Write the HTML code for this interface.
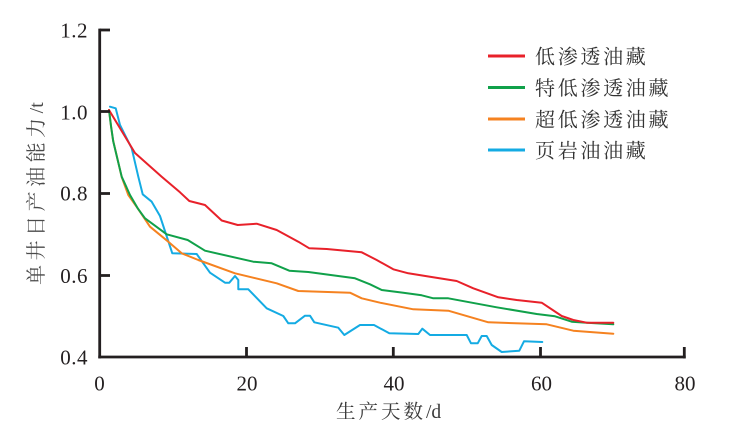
<!DOCTYPE html>
<html>
<head>
<meta charset="utf-8">
<style>
  html,body{margin:0;padding:0;background:#fff;}
  svg{display:block;}
  .tick{font-family:"Liberation Serif","Noto Serif CJK SC",serif;font-size:21px;fill:#231f20;}
  .cj{font-family:"Liberation Serif","Noto Serif CJK SC",serif;}
</style>
</head>
<body>
<svg width="737" height="431" viewBox="0 0 737 431" xmlns="http://www.w3.org/2000/svg">
  <rect width="737" height="431" fill="#fff"/>

  <!-- series -->
  <g fill="none" stroke-width="2" stroke-linejoin="round" stroke-linecap="round">
    <polyline stroke="#14abe3" points="110,106.7 115.7,108.3 120,125 131.7,148.3 138.3,176.7 142.7,194.3 151.7,201.7 160,216 172.3,253.3 196.7,254 210,272.7 225,282.7 229.3,282.7 235,276 238.3,280 238.3,289.3 248.3,289.3 266.7,308.3 283.3,316 288.3,323.3 295,323.3 305,315.7 310,315.7 314.3,322.3 338.3,327.7 344.3,335 360,325 374,325 389.3,333.3 418.3,334 422.3,328.7 430,335 466.7,335 471,343.3 477.7,343.3 481.7,336 486.7,336 491.7,345 501.7,352 519.3,350.7 524,341.3 542.3,342"/>
    <polyline stroke="#f58220" points="109,110 111,126 113,140 121.7,177 128.3,195 137.7,208.3 150,226.7 168.3,241.7 181.7,253.3 198.3,260 235,273.3 276.7,283.3 298.3,291 350,292.7 361.7,298.3 380,302.7 413.3,309.3 448.3,310.7 488.3,322.3 546.7,324.3 573.3,330.7 613.3,333.7"/>
    <polyline stroke="#10a14a" points="109,110 111,126 113.3,141.7 121.7,176.7 130,195 137.7,208.3 145,218.3 166.7,234.3 187.7,240 205,250.7 253.3,261.7 271.7,263.3 289.3,270.7 308.3,272 355,278.3 370,284.3 381.7,290 403.3,292.7 421.7,295.3 433.3,298.3 448.3,298.3 496.7,307.3 536.7,314 555,316.3 571.7,321.7 586.7,322.7 613.3,324.3"/>
    <polyline stroke="#e8212a" points="109,110 135,153 161.7,176.7 180,192.3 189.3,201 205,205 221.7,220.5 237.7,225 256.7,223.7 276.7,230 298.3,241.7 309.3,248.3 326.7,249 361.7,252.3 376.7,260 393.3,269.3 408.3,273.3 430,276.7 456.7,281 473.3,288.3 498.3,297.3 516.7,300 541.7,302.7 561.7,316 573.3,320 586.7,322.7 613.3,322.7"/>
  </g>

  <!-- axes -->
  <g stroke="#231f20" stroke-width="2.8" fill="none">
    <line x1="99.7" y1="28.6" x2="99.7" y2="358.4"/>
    <line x1="98.3" y1="357" x2="685.7" y2="357"/>
    <line x1="99.7" y1="30" x2="110" y2="30"/>
    <line x1="99.7" y1="111.5" x2="110" y2="111.5"/>
    <line x1="99.7" y1="193.5" x2="110" y2="193.5"/>
    <line x1="99.7" y1="275.5" x2="110" y2="275.5"/>
    <line x1="246.5" y1="357" x2="246.5" y2="347"/>
    <line x1="393.3" y1="357" x2="393.3" y2="347"/>
    <line x1="540.5" y1="357" x2="540.5" y2="347"/>
    <line x1="684.3" y1="358.4" x2="684.3" y2="347"/>
  </g>

  <!-- y tick labels -->
  <g class="tick" text-anchor="end">
    <text x="88" y="37.5" letter-spacing="0.5">1.2</text>
    <text x="88" y="119.5" letter-spacing="0.5">1.0</text>
    <text x="88" y="200.5" letter-spacing="0.5">0.8</text>
    <text x="88" y="283" letter-spacing="0.5">0.6</text>
    <text x="88" y="364.5" letter-spacing="0.5">0.4</text>
  </g>
  <!-- x tick labels -->
  <g class="tick" text-anchor="middle">
    <text x="99.5" y="390.5">0</text>
    <text x="247" y="390.5">20</text>
    <text x="394" y="390.5">40</text>
    <text x="541.5" y="390.5">60</text>
    <text x="685" y="390.5">80</text>
  </g>

  <!-- axis titles -->
  <text class="cj" x="336" y="418" font-size="19.5" fill="#3a3a3a"><tspan letter-spacing="3">生产天数</tspan><tspan letter-spacing="0">/d</tspan></text>
  <text class="cj" transform="translate(43,193.5) rotate(-90)" text-anchor="middle" font-size="20" fill="#4a4a4a"><tspan letter-spacing="4.5">单井日产油能力</tspan><tspan letter-spacing="0">/t</tspan></text>

  <!-- legend -->
  <g stroke-width="3">
    <line x1="488" y1="56" x2="525" y2="56" stroke="#e8212a"/>
    <line x1="488" y1="87.5" x2="525" y2="87.5" stroke="#10a14a"/>
    <line x1="488" y1="119" x2="525" y2="119" stroke="#f58220"/>
    <line x1="488" y1="150" x2="525" y2="150" stroke="#14abe3"/>
  </g>
  <g class="cj" font-size="20" letter-spacing="2.7" fill="#333">
    <text x="535" y="63.5">低渗透油藏</text>
    <text x="535" y="95">特低渗透油藏</text>
    <text x="535" y="126.5">超低渗透油藏</text>
    <text x="535" y="157.5">页岩油油藏</text>
  </g>
</svg>
</body>
</html>
